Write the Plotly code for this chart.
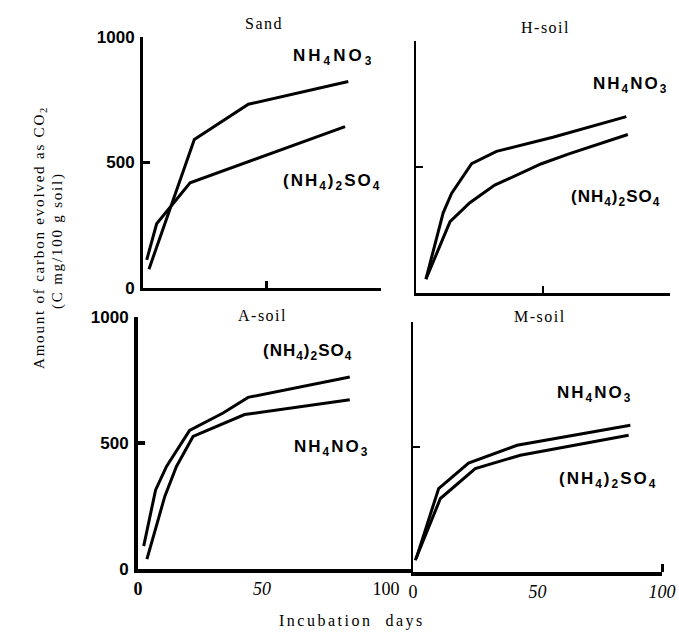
import plotly.graph_objects as go

W, H = 679, 634

# ---------------- data ----------------
sand_nh4no3_days = [2.4, 20.7, 42.5, 82.8]
sand_nh4no3_c = [75, 592, 732, 823]
sand_so4_days = [1.5, 5.5, 19, 81.5]
sand_so4_c = [112, 256, 419, 643]

hsoil_nh4no3_days = [3.9, 10.7, 14, 21.9, 31.7, 53.9, 82.8]
hsoil_nh4no3_c = [55, 318, 395, 513, 562, 618, 700]
hsoil_so4_days = [3.9, 13.4, 21.2, 31, 49.4, 60.5, 83.4]
hsoil_so4_c = [55, 283, 358, 428, 513, 553, 629]

asoil_so4_days = [2.3, 7.1, 11.5, 20.8, 34.3, 44.4, 85.4]
asoil_so4_c = [91, 314, 407, 550, 619, 681, 762]
asoil_nh4no3_days = [3.6, 10.8, 15.5, 22.2, 43, 85.4]
asoil_nh4no3_c = [39, 288, 407, 526, 613, 672]

msoil_nh4no3_days = [1.3, 10.3, 22.3, 41.8, 87.3]
msoil_nh4no3_c = [54, 334, 436, 507, 587]
msoil_so4_days = [0.9, 11, 25, 43.1, 86.6]
msoil_so4_c = [47, 294, 414, 467, 547]

panel_titles = ["Sand", "H-soil", "A-soil", "M-soil"]
y_tickvals = [0, 500, 1000]
y_ticktext = ["0", "500", "1000"]
x_tickvals = [0, 50, 100]
x_ticktext_left = ["<b>0</b>", "<i>50</i>", "100"]
x_ticktext_right = ["0", "<i>50</i>", "<i>100</i>"]

NH4NO3 = "NH<sub>4</sub>NO<sub>3</sub>"
SO4 = "(NH<sub>4</sub>)<sub>2</sub>SO<sub>4</sub>"

# ---------------- helpers ----------------
def px_x(p):
    return p / W

def px_y(p):
    return 1 - p / H

fig = go.Figure()

series = [
    ("x", "y", sand_nh4no3_days, sand_nh4no3_c),
    ("x", "y", sand_so4_days, sand_so4_c),
    ("x2", "y2", hsoil_nh4no3_days, hsoil_nh4no3_c),
    ("x2", "y2", hsoil_so4_days, hsoil_so4_c),
    ("x3", "y3", asoil_so4_days, asoil_so4_c),
    ("x3", "y3", asoil_nh4no3_days, asoil_nh4no3_c),
    ("x4", "y4", msoil_nh4no3_days, msoil_nh4no3_c),
    ("x4", "y4", msoil_so4_days, msoil_so4_c),
]
for xa, ya, xs, ys in series:
    fig.add_trace(go.Scatter(x=xs, y=ys, xaxis=xa, yaxis=ya, mode="lines",
                             line=dict(color="black", width=3),
                             showlegend=False, hoverinfo="skip"))

tickfont_y = dict(family="Liberation Sans", size=17, color="black", weight="bold")
tickfont_x = dict(family="Liberation Serif", size=18, color="black")

def xaxis(dom, rng, anchor, lw, tickvals, ticks, labels=None, minor=None):
    d = dict(domain=[px_x(dom[0]), px_x(dom[1])], range=rng, anchor=anchor,
             showline=True, linecolor="black", linewidth=lw, showgrid=False,
             zeroline=False, tickmode="array", tickvals=tickvals, ticks=ticks,
             ticklen=7, tickwidth=lw, tickcolor="black", fixedrange=True,
             automargin=False)
    if labels is None:
        d["showticklabels"] = False
    else:
        d["ticktext"] = labels
        d["tickfont"] = tickfont_x
        d["showticklabels"] = True
    if minor:
        d["minor"] = minor
    return d

def yaxis(dom, anchor, lw, labels):
    d = dict(domain=[px_y(dom[0]), px_y(dom[1])], range=[0, 1000], anchor=anchor,
             showline=True, linecolor="black", linewidth=lw, showgrid=False,
             zeroline=False, tickmode="array", tickvals=[500, 1000], ticks="inside",
             ticklen=7, tickwidth=lw, tickcolor="black", fixedrange=True,
             automargin=False)
    if labels:
        d["tickvals"] = y_tickvals
        d["ticktext"] = y_ticktext
        d["tickfont"] = tickfont_y
        d["showticklabels"] = True
        d["ticklabelstandoff"] = 2
    else:
        d["showticklabels"] = False
    return d

layout = dict(
    width=W, height=H, margin=dict(l=0, r=0, t=0, b=0, pad=0, autoexpand=False),
    paper_bgcolor="white", plot_bgcolor="white", showlegend=False,
    xaxis=xaxis((143, 381), [0, 96], "y", 3, [50], "inside"),
    yaxis=yaxis((288, 37), "x", 3, True),
    xaxis2=xaxis((416, 670), [0, 100], "y2", 2.5, [50, 100], "inside"),
    yaxis2=yaxis((293, 41), "x2", 2.5, False),
    xaxis3=xaxis((138, 413), [0, 110.9], "y3", 4, x_tickvals, "", x_ticktext_left),
    yaxis3=yaxis((569, 317), "x3", 4, True),
    xaxis4=xaxis((413, 662), [0, 100], "y4", 4, x_tickvals, "", x_ticktext_right,
                 minor=dict(tickmode="array", tickvals=[100], ticks="inside",
                            ticklen=8, tickwidth=3, tickcolor="black")),
    yaxis4=yaxis((572, 322), "x4", 2, False),
)
fig.update_layout(**layout)

ann = []
def add_text(text, cx, cy, font, angle=0):
    ann.append(dict(text=text, x=px_x(cx), y=px_y(cy), xref="paper", yref="paper",
                    xanchor="center", yanchor="middle", showarrow=False,
                    font=font, textangle=angle))

title_font = dict(family="Liberation Serif", size=16, color="black")
sp = lambda s, t: '<span style="letter-spacing:%spx">%s</span>' % (s, t)
add_text(sp(1.5, panel_titles[0]), 264, 24, title_font)
add_text(sp(1.5, panel_titles[1]), 545, 28, title_font)
add_text(sp(1.5, panel_titles[2]), 262, 315, title_font)
add_text(sp(1.5, panel_titles[3]), 540, 316, title_font)

lab_font = dict(family="Liberation Sans", size=17, color="black", weight="bold")
add_text(sp(3, NH4NO3), 333, 57, lab_font)
add_text(sp(2, SO4), 332, 182, lab_font)
add_text(sp(2, NH4NO3), 630, 85, lab_font)
add_text(sp(1, SO4), 615, 198, lab_font)
add_text(sp(1, SO4), 307, 352, lab_font)
add_text(sp(2, NH4NO3), 331, 448, lab_font)
add_text(sp(2, NH4NO3), 594, 394, lab_font)
add_text(sp(2, SO4), 608, 480, lab_font)

axis_font = dict(family="Liberation Serif", size=15, color="black")
add_text(sp(1.8, "Amount of carbon evolved as CO<sub>2</sub>"), 40, 238, axis_font, -90)
add_text(sp(1.8, "(C mg/100 g soil)"), 57, 240, axis_font, -90)
add_text(sp(2.5, "Incubation  days"), 352, 621, dict(family="Liberation Serif", size=16, color="black"))

fig.update_layout(annotations=ann)
fig.write_html("out.html",
               config={"displayModeBar": False, "staticPlot": True},
               post_script="document.body.style.margin='0';document.body.style.padding='0';")
